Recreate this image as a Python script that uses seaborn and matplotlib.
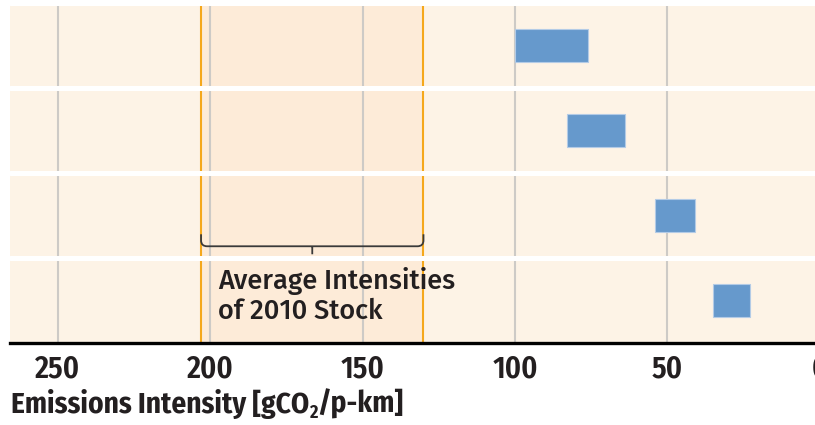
import matplotlib
matplotlib.use("Agg")
import matplotlib.pyplot as plt
from matplotlib.path import Path
from matplotlib.patches import PathPatch
import pandas as pd
import seaborn as sns

# ---- data -------------------------------------------------------------
rows = ["r1", "r2", "r3", "r4"]
intensity_high = [100, 83, 54, 35]   # gCO2/p-km, left end of each bar
intensity_low = [76, 64, 41, 23]     # gCO2/p-km, right end of each bar
stock_range = [203, 130]             # average intensities of 2010 stock
tick_values = [250, 200, 150, 100, 50, 0]
tick_labels = ["250", "200", "150", "100", "50", "0"]
note_lines = ["Average Intensities", "of 2010 Stock"]
x_title = ["Emissions Intensity [gCO", "2", "/p-km]"]

# ---- style ------------------------------------------------------------
BAND = "#fdf3e6"
SHADE = "#fdebd8"
GRID = "#cdcac6"
ORANGE = "#f5a81c"
BLUE = "#6699cc"
BAR_EDGE = "#b3cbe6"
INK = "#231f20"
FONT = "Fira Sans Condensed"
NOTE_FONT = "Fira Sans"

sns.set_theme(style="white")
plt.rcParams["font.family"] = [FONT, "DejaVu Sans"]

W, H = 815, 425
fig = plt.figure(figsize=(W / 100, H / 100), dpi=100)
fig.patch.set_facecolor("white")

# axes: x = 0 sits just past the right edge of the figure
px_per_unit = 3.047
x_left = 265.7
ax_w = x_left * px_per_unit
ax = fig.add_axes([10 / W, (H - 343) / H, ax_w / W, 340 / H])
ax.set_facecolor(BAND)

df = pd.DataFrame({
    "row": rows,
    "span": [h - l for h, l in zip(intensity_high, intensity_low)],
    "start": intensity_low,
})

# shaded band for the 2010 stock average
ax.axvspan(stock_range[0], stock_range[1], color=SHADE, lw=0, zorder=0.5)
for t in tick_values:
    ax.axvline(t, color=GRID, lw=1.5, zorder=1)
for s in stock_range:
    ax.axvline(s, color=ORANGE, lw=1.5, zorder=1.2)

sns.barplot(
    data=df, x="span", y="row", orient="h",
    left=df["start"].to_numpy(),
    color=BLUE, saturation=1, width=0.38, errorbar=None,
    edgecolor=BAR_EDGE, linewidth=0.8, ax=ax, zorder=3,
)

# white separators between the rows
for b in [-0.5, 0.5, 1.5, 2.5]:
    ax.axhline(b, color="white", lw=3.6, zorder=4)

ax.set_xlim(x_left, 0)
ax.set_ylim(3.5, -0.5)

for side in ["top", "left", "right"]:
    ax.spines[side].set_visible(False)
ax.spines["bottom"].set_color("black")
ax.spines["bottom"].set_linewidth(2.4)
ax.spines["bottom"].set_zorder(5)

ax.set_yticks([])
ax.set_ylabel("")
ax.set_xlabel("")
ax.set_xticks(tick_values)
ax.set_xticklabels(tick_labels, fontsize=22, fontweight=600, color=INK)
ax.tick_params(axis="x", length=0, pad=8)

# bracket over the stock range
x0, x1 = stock_range
xm = (x0 + x1) / 2
y_end, y_line, y_tick = 2.221, 2.362, 2.456
rx, ry = 2.0, 0.07
verts = [
    (x0, y_end), (x0, y_line - ry),
    (x0, y_line), (x0 - rx, y_line),
    (x1 + rx, y_line),
    (x1, y_line), (x1, y_line - ry),
    (x1, y_end),
    (xm, y_line), (xm, y_tick),
]
codes = [
    Path.MOVETO, Path.LINETO,
    Path.CURVE3, Path.CURVE3,
    Path.LINETO,
    Path.CURVE3, Path.CURVE3,
    Path.LINETO,
    Path.MOVETO, Path.LINETO,
]
ax.add_patch(PathPatch(Path(verts, codes), fill=False, edgecolor="#3a3a3a",
                       lw=1.3, zorder=4.5, capstyle="butt"))

for line, y in zip(note_lines, [2.867, 3.218]):
    ax.text(197.4, y, line, fontsize=19.5, fontweight=500, color=INK,
            family=[NOTE_FONT, "DejaVu Sans"], ha="left", va="baseline", zorder=6)

# axis title with a lowered, smaller "2" in CO2
title_size = 21
fig.canvas.draw()
renderer = fig.canvas.get_renderer()
x_px, base_px = 11.0, 413.0
parts = [(x_title[0], title_size, 0.0), (x_title[1], title_size * 0.62, -5.0),
         (x_title[2], title_size, 0.0)]
for text, size, dy in parts:
    t = fig.text(x_px / W, (H - base_px + dy) / H, text, fontsize=size,
                 fontweight="bold", color=INK, ha="left", va="baseline")
    bb = t.get_window_extent(renderer)
    x_px += bb.width

fig.savefig("out.png", dpi=100)
